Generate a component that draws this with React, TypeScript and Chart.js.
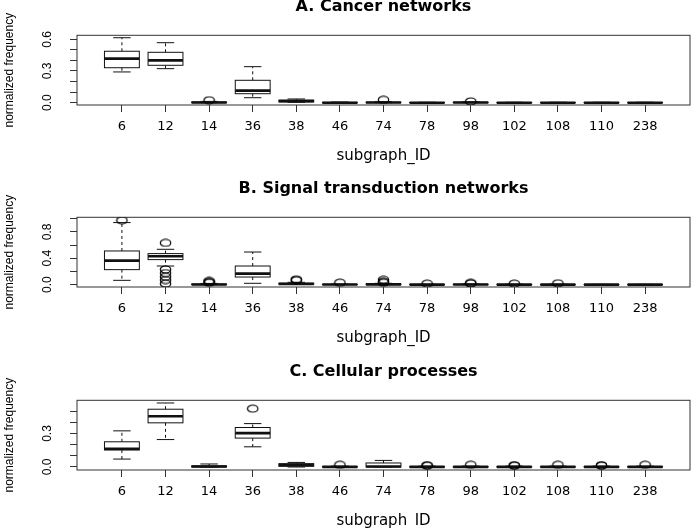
import React, { useEffect, useRef } from 'react';
import { Chart, registerables } from 'chart.js';

Chart.register(...registerables);

// ---------- data ----------
const categories = ['6', '12', '14', '36', '38', '46', '74', '78', '98', '102', '108', '110', '238'];

// A. Cancer networks
const cancerLow = [0.291, 0.322, 0, 0.047, 0.004, 0, 0, 0, 0, 0, 0, 0, 0];
const cancerQ1 = [0.331, 0.354, 0, 0.085, 0.008, 0, 0, 0, 0, 0, 0, 0, 0];
const cancerMedian = [0.417, 0.401, 0.002, 0.114, 0.015, 0, 0.001, 0, 0.001, 0, 0, 0, 0];
const cancerQ3 = [0.487, 0.477, 0.006, 0.212, 0.024, 0.003, 0.004, 0.002, 0.004, 0.002, 0.002, 0.002, 0.002];
const cancerHigh = [0.615, 0.568, 0.012, 0.341, 0.035, 0.006, 0.01, 0.004, 0.008, 0.004, 0.004, 0.004, 0.004];
const cancerOutlierCats = ['14', '74', '98'];
const cancerOutlierVals = [0.023, 0.027, 0.012];
const cancerYTicks = [0, 0.1, 0.2, 0.3, 0.4, 0.5, 0.6];
const cancerYLabels = ['0.0', '', '', '0.3', '', '', '0.6'];

// B. Signal transduction networks
const signalLow = [0.065, 0.282, 0, 0.02, 0.002, 0, 0, 0, 0, 0, 0, 0, 0];
const signalQ1 = [0.227, 0.379, 0, 0.115, 0.006, 0, 0, 0, 0, 0, 0, 0, 0];
const signalMedian = [0.363, 0.43, 0.003, 0.167, 0.012, 0.001, 0.004, 0, 0.001, 0, 0, 0, 0];
const signalQ3 = [0.51, 0.47, 0.008, 0.282, 0.02, 0.004, 0.01, 0.003, 0.005, 0.003, 0.003, 0.002, 0.002];
const signalHigh = [0.94, 0.535, 0.018, 0.494, 0.035, 0.008, 0.02, 0.006, 0.01, 0.006, 0.006, 0.004, 0.004];
const signalOutlierCats = ['6', '12', '12', '12', '12', '12', '12', '14', '14', '14', '38', '38', '46', '74', '74', '74', '78', '98', '98', '102', '108'];
const signalOutlierVals = [0.975, 0.632, 0.23, 0.175, 0.12, 0.07, 0.015, 0.055, 0.04, 0.03, 0.08, 0.065, 0.03, 0.072, 0.045, 0.03, 0.015, 0.025, 0.02, 0.015, 0.02];
const signalYTicks = [0, 0.2, 0.4, 0.6, 0.8, 1.0];
const signalYLabels = ['0.0', '', '0.4', '', '0.8', ''];

// C. Cellular processes
const cellLow = [0.071, 0.246, 0, 0.181, 0, 0, 0, 0, 0, 0, 0, 0, 0];
const cellQ1 = [0.152, 0.396, 0, 0.259, 0.006, 0, 0, 0, 0, 0, 0, 0, 0];
const cellMedian = [0.163, 0.455, 0.004, 0.304, 0.018, 0.001, 0.004, 0.001, 0.001, 0.001, 0.001, 0.001, 0.001];
const cellQ3 = [0.226, 0.518, 0.01, 0.354, 0.03, 0.004, 0.036, 0.004, 0.004, 0.004, 0.004, 0.004, 0.004];
const cellHigh = [0.324, 0.574, 0.027, 0.389, 0.041, 0.008, 0.059, 0.008, 0.008, 0.008, 0.008, 0.008, 0.008];
const cellOutlierCats = ['36', '46', '78', '78', '98', '102', '102', '108', '110', '110', '238'];
const cellOutlierVals = [0.523, 0.02, 0.016, 0.012, 0.02, 0.016, 0.012, 0.02, 0.016, 0.012, 0.02];
const cellYTicks = [0, 0.1, 0.2, 0.3, 0.4, 0.5];
const cellYLabels = ['0.0', '', '', '0.3', '', ''];

// ---------- drawing ----------
const CANVAS_W = 691;
const CANVAS_H = 168;
const BOX_HALF = 0.4;
const INK = '#111';

function makeEllipse(): HTMLCanvasElement {
  const c = document.createElement('canvas');
  c.width = 13;
  c.height = 9;
  const g = c.getContext('2d')!;
  g.strokeStyle = '#000';
  g.lineWidth = 1.2;
  g.beginPath();
  g.ellipse(6.5, 4.5, 5.2, 3.5, 0, 0, Math.PI * 2);
  g.stroke();
  return c;
}

type PanelProps = {
  top: number;
  title: string;
  low: number[];
  q1: number[];
  median: number[];
  q3: number[];
  high: number[];
  outCats: string[];
  outVals: number[];
  yMin: number;
  yMax: number;
  yTicks: number[];
  yLabels: string[];
};

function Panel(p: PanelProps) {
  const ref = useRef<HTMLCanvasElement>(null);
  useEffect(() => {
    if (!ref.current) return;
    const boxPlugin = {
      id: 'boxes',
      beforeDatasetsDraw(chart: any) {
        const { ctx, chartArea: a, scales } = chart;
        const x = scales.x;
        const y = scales.y;
        ctx.save();
        ctx.strokeStyle = INK;
        const line = (x1: number, y1: number, x2: number, y2: number) => {
          ctx.beginPath();
          ctx.moveTo(x1, y1);
          ctx.lineTo(x2, y2);
          ctx.stroke();
        };
        categories.forEach((_, i) => {
          const cx = x.getPixelForValue(i + 1);
          const hw = x.getPixelForValue(i + 1 + BOX_HALF) - cx;
          const yLo = y.getPixelForValue(p.low[i]);
          const yQ1 = y.getPixelForValue(p.q1[i]);
          const yMed = y.getPixelForValue(p.median[i]);
          const yQ3 = y.getPixelForValue(p.q3[i]);
          const yHi = y.getPixelForValue(p.high[i]);
          ctx.lineWidth = 1;
          ctx.setLineDash([3, 3]);
          if (p.high[i] > p.q3[i]) line(cx, yQ3, cx, yHi);
          if (p.low[i] < p.q1[i]) line(cx, yQ1, cx, yLo);
          ctx.setLineDash([]);
          line(cx - hw / 2, yHi, cx + hw / 2, yHi);
          line(cx - hw / 2, yLo, cx + hw / 2, yLo);
          ctx.fillStyle = '#fff';
          ctx.fillRect(cx - hw, yQ3, hw * 2, yQ1 - yQ3);
          ctx.strokeRect(cx - hw, yQ3, hw * 2, yQ1 - yQ3);
          ctx.lineWidth = 2.6;
          line(cx - hw, yMed, cx + hw, yMed);
        });
        ctx.lineWidth = 1;
        ctx.strokeStyle = '#333';
        ctx.strokeRect(a.left, a.top, a.right - a.left, a.bottom - a.top);
        ctx.restore();
      },
      afterDraw(chart: any) {
        // rotated y tick labels (R style, reading bottom to top)
        const { ctx, chartArea: a, scales } = chart;
        const y = scales.y;
        ctx.save();
        ctx.fillStyle = '#000';
        ctx.font = '12px "Liberation Sans", Arial, sans-serif';
        ctx.textAlign = 'center';
        ctx.textBaseline = 'middle';
        p.yTicks.forEach((v, i) => {
          const lbl = p.yLabels[i];
          if (!lbl) return;
          ctx.save();
          ctx.translate(a.left - 29, y.getPixelForValue(v));
          ctx.rotate(-Math.PI / 2);
          ctx.fillText(lbl, 0, 0);
          ctx.restore();
        });
        ctx.restore();
      },
    };

    const chart = new Chart(ref.current, {
      type: 'scatter',
      data: {
        datasets: [
          {
            data: p.outCats.map((c, k) => ({ x: categories.indexOf(c) + 1, y: p.outVals[k] })),
            pointStyle: makeEllipse() as any,
            pointRadius: 4,
            borderColor: INK,
            backgroundColor: 'rgba(0,0,0,0)',
          },
        ],
      },
      options: {
        responsive: false,
        animation: false,
        devicePixelRatio: 1,
        layout: { padding: { left: 0, right: 1, top: 0, bottom: 0 }, autoPadding: false },
        plugins: {
          legend: { display: false },
          tooltip: { enabled: false },
          title: {
            display: true,
            text: p.title,
            fullSize: false,
            color: '#000',
            font: { family: 'DejaVu Sans', size: 16, weight: 'bold', lineHeight: 1 },
            padding: { top: 0, bottom: 20.3 },
          },
        },
        scales: {
          x: {
            type: 'linear',
            min: -0.03,
            max: 14.03,
            afterBuildTicks: (s: any) => {
              s.ticks = categories.map((_, i) => ({ value: i + 1 }));
            },
            afterFit: (s: any) => {
              s.height = 62;
            },
            grid: { drawOnChartArea: false, drawTicks: true, tickLength: 7, color: '#333', tickColor: '#333' },
            border: { display: false },
            ticks: {
              autoSkip: false,
              minRotation: 0,
              maxRotation: 0,
              padding: 7,
              color: '#000',
              font: { family: 'DejaVu Sans', size: 13 },
              callback: (_v: any, i: number) => categories[i],
            },
            title: {
              display: true,
              text: 'subgraph_ID',
              color: '#000',
              font: { family: 'DejaVu Sans', size: 15 },
              padding: { top: 0, bottom: 2 },
            },
          },
          y: {
            type: 'linear',
            min: p.yMin,
            max: p.yMax,
            afterBuildTicks: (s: any) => {
              s.ticks = p.yTicks.map((v) => ({ value: v }));
            },
            afterFit: (s: any) => {
              s.width = 77;
            },
            grid: { drawOnChartArea: false, drawTicks: true, tickLength: 7, color: '#333', tickColor: '#333' },
            border: { display: false },
            ticks: {
              display: false,
              autoSkip: false,
              callback: (_v: any, i: number) => p.yLabels[i],
            },
            title: {
              display: true,
              text: 'normalized frequency',
              color: '#000',
              font: { family: 'Liberation Sans', size: 12 },
              padding: { top: 2, bottom: 0 },
            },
          },
        },
      },
      plugins: [boxPlugin],
    } as any);
    return () => chart.destroy();
  }, []);
  return (
    <canvas
      ref={ref}
      width={CANVAS_W}
      height={CANVAS_H}
      style={{ position: 'absolute', left: 0, top: p.top, width: CANVAS_W, height: CANVAS_H }}
    />
  );
}

export default function App() {
  return (
    <div
      style={{
        position: 'absolute',
        left: 0,
        top: 0,
        width: CANVAS_W,
        height: 528,
        overflow: 'hidden',
        background: '#fff',
      }}
    >
      <Panel
        top={-1}
        title="A. Cancer networks"
        low={cancerLow}
        q1={cancerQ1}
        median={cancerMedian}
        q3={cancerQ3}
        high={cancerHigh}
        outCats={cancerOutlierCats}
        outVals={cancerOutlierVals}
        yMin={-0.022}
        yMax={0.638}
        yTicks={cancerYTicks}
        yLabels={cancerYLabels}
      />
      <Panel
        top={181}
        title="B. Signal transduction networks"
        low={signalLow}
        q1={signalQ1}
        median={signalMedian}
        q3={signalQ3}
        high={signalHigh}
        outCats={signalOutlierCats}
        outVals={signalOutlierVals}
        yMin={-0.036}
        yMax={1.02}
        yTicks={signalYTicks}
        yLabels={signalYLabels}
      />
      <Panel
        top={364}
        title="C. Cellular processes"
        low={cellLow}
        q1={cellQ1}
        median={cellMedian}
        q3={cellQ3}
        high={cellHigh}
        outCats={cellOutlierCats}
        outVals={cellOutlierVals}
        yMin={-0.027}
        yMax={0.598}
        yTicks={cellYTicks}
        yLabels={cellYLabels}
      />
    </div>
  );
}
